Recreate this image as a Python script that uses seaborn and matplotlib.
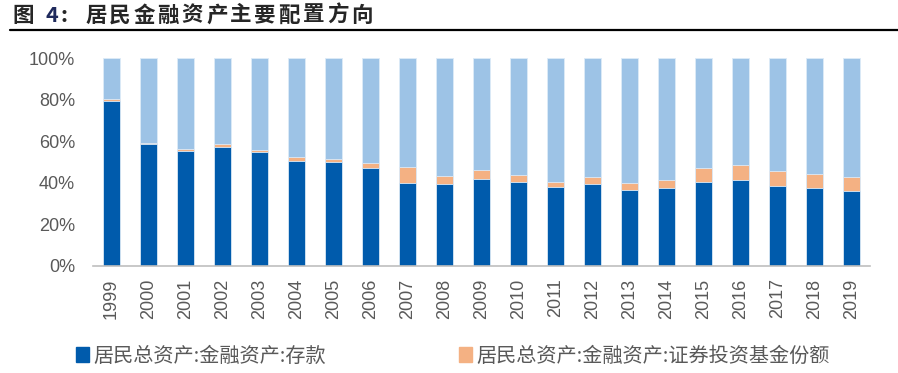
import matplotlib
matplotlib.use("Agg")
import matplotlib.pyplot as plt
from matplotlib.patches import Patch
from matplotlib.ticker import FixedLocator, PercentFormatter
import seaborn as sns
import pandas as pd

years = [str(y) for y in range(1999, 2020)]
# 存款占比 (%)
deposit = [79.3, 58.5, 55.4, 57.4, 54.8, 50.6, 50.0, 47.0, 39.9, 39.4, 42.0,
           40.5, 37.8, 39.4, 36.7, 37.3, 40.5, 41.5, 38.5, 37.3, 36.2]
# 证券投资基金份额占比 (%)
fund = [1.0, 0.5, 0.7, 1.1, 1.1, 1.6, 1.6, 2.5, 7.5, 3.9, 4.3,
        3.1, 2.7, 3.2, 3.0, 4.2, 6.5, 6.9, 7.2, 6.9, 6.4]
# 其他金融资产占比 (%)
other = [100 - d - f for d, f in zip(deposit, fund)]

label_dep = "居民总资产:金融资产:存款"
label_fund = "居民总资产:金融资产:证券投资基金份额"

c_dep = "#005BAC"
c_fund = "#F4B183"
c_other = "#9DC3E6"
grey = "#595959"

df = pd.DataFrame({"year": years, "deposit": deposit, "fund": fund, "other": other})
df["lvl1"] = df["deposit"] / 100
df["lvl2"] = (df["deposit"] + df["fund"]) / 100
df["lvl3"] = (df["deposit"] + df["fund"] + df["other"]) / 100

sns.set_style("white")
plt.rcParams["font.family"] = ["Liberation Sans", "Noto Sans CJK SC", "DejaVu Sans"]

fig = plt.figure(figsize=(8.98, 3.73), dpi=100)
ax = fig.add_axes([0.1036, 0.2869, 0.8653, 0.5576])

# stacked bars: draw cumulative totals back to front
for col, c in [("lvl3", c_other), ("lvl2", c_fund), ("lvl1", c_dep)]:
    sns.barplot(data=df, x="year", y=col, color=c, saturation=1, width=0.45,
                edgecolor="#DDEBF7", linewidth=0.6, ax=ax, errorbar=None)

ax.set_xlim(-0.5, len(years) - 0.5)
ax.set_ylim(0, 1)
ax.yaxis.set_major_locator(FixedLocator([0, 0.2, 0.4, 0.6, 0.8, 1.0]))
ax.yaxis.set_major_formatter(PercentFormatter(1.0, decimals=0))
ax.set_xlabel("")
ax.set_ylabel("")

for s in ["top", "right", "left"]:
    ax.spines[s].set_visible(False)
ax.spines["bottom"].set_color("#BFBFBF")
ax.spines["bottom"].set_linewidth(1.2)

ax.tick_params(axis="y", length=0, pad=13, labelsize=13, labelcolor=grey)
ax.tick_params(axis="x", which="major", length=0, pad=9, labelsize=13,
               labelcolor=grey, labelrotation=90)
ax.set_xticks([i - 0.5 for i in range(len(years) + 1)], minor=True)
ax.tick_params(axis="x", which="minor", length=5, width=1, color="#BFBFBF")

# title
tf = ["Noto Sans CJK SC", "DejaVu Sans"]
def px(x):
    return x / 898
ty = 1 - 15 / 373
tsize = 15.5
fig.text(px(12), ty, "图", fontsize=tsize, fontweight="bold", family=tf, va="center")
fig.text(px(46), ty, "4", fontsize=tsize, fontweight="bold", family=tf, va="center",
         color="#1F2A5C")
fig.text(px(60), ty, ":", fontsize=tsize, fontweight="bold", family=tf, va="center")
for i, ch in enumerate("居民金融资产主要配置方向"):
    fig.text(px(85 + i * 24.2), ty, ch, fontsize=tsize, fontweight="bold",
             family=tf, va="center")
fig.add_artist(plt.Line2D([px(10), 1.0], [1 - 30 / 373] * 2, color="black",
                          linewidth=1.6, transform=fig.transFigure))

handles = [Patch(color=c_dep, label=label_dep), Patch(color=c_fund, label=label_fund)]
leg = fig.legend(handles=handles, loc="center left", bbox_to_anchor=(px(58), 17 / 373),
                 ncol=2, frameon=False, handlelength=0.65,
                 handleheight=0.7, handletextpad=0.2, columnspacing=6.6,
                 prop={"family": ["Noto Sans CJK SC", "DejaVu Sans"], "size": 14.5})
for t in leg.get_texts():
    t.set_color(grey)

fig.savefig("out.png", dpi=100)
